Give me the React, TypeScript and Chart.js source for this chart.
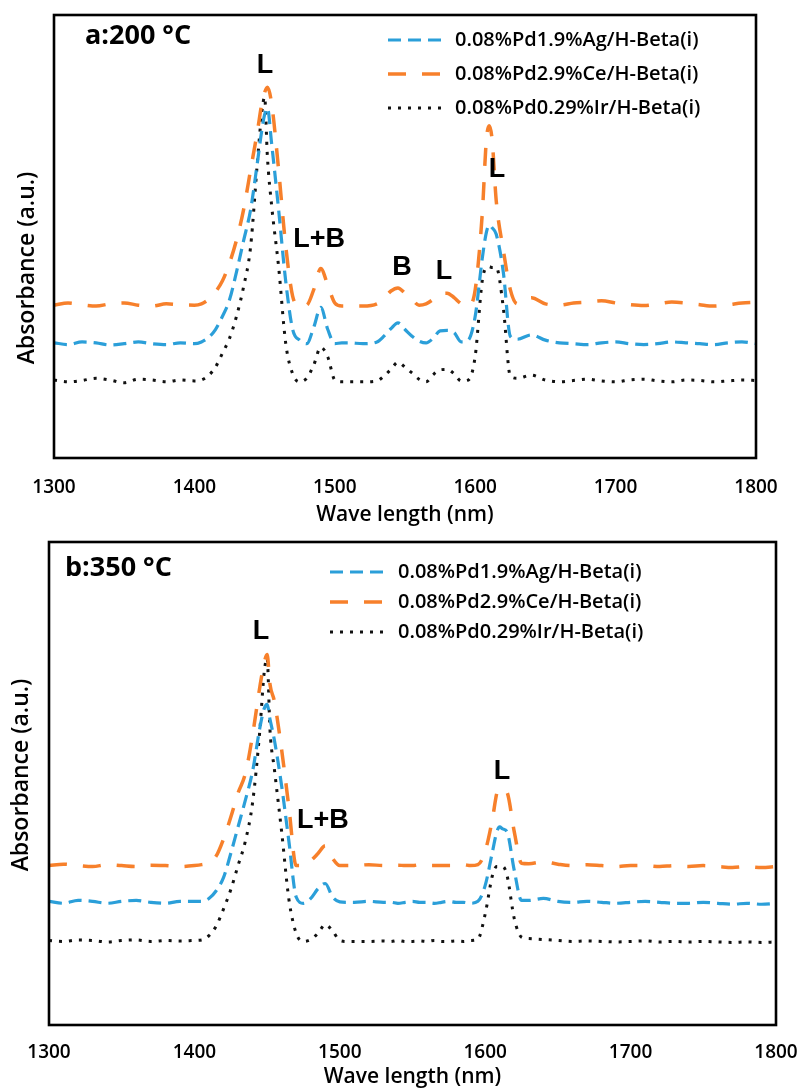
import React, { useEffect, useRef } from "react";
import { Chart, registerables } from "chart.js";

Chart.register(...registerables);

// ---------------- DATA ----------------
const wavelengths = [
  1300, 1310, 1320, 1330, 1340, 1350, 1360, 1370, 1380, 1390,
  1400, 1405, 1410, 1415, 1420, 1425, 1430, 1435, 1440, 1445,
  1448, 1450, 1452, 1455, 1460, 1465, 1470, 1475, 1480, 1485,
  1490, 1495, 1500, 1505, 1510, 1520, 1530, 1535, 1540, 1545,
  1550, 1555, 1560, 1565, 1570, 1575, 1580, 1585, 1590, 1595,
  1600, 1605, 1608, 1610, 1612, 1615, 1620, 1625, 1630, 1640,
  1650, 1660, 1670, 1680, 1690, 1700, 1710, 1720, 1730, 1740,
  1750, 1760, 1770, 1780, 1790, 1800,
];

const seriesNames = [
  "0.08%Pd1.9%Ag/H-Beta(i)",
  "0.08%Pd2.9%Ce/H-Beta(i)",
  "0.08%Pd0.29%Ir/H-Beta(i)",
];

// panel a: 200 °C
const topAg = [
  0.260, 0.256, 0.262, 0.260, 0.255, 0.258, 0.262, 0.258, 0.256, 0.260,
  0.258, 0.262, 0.272, 0.290, 0.320, 0.357, 0.420, 0.490, 0.560, 0.670,
  0.740, 0.775, 0.790, 0.710, 0.560, 0.400, 0.290, 0.266, 0.258, 0.295,
  0.340, 0.290, 0.258, 0.260, 0.260, 0.258, 0.262, 0.275, 0.292, 0.305,
  0.290, 0.275, 0.264, 0.260, 0.270, 0.287, 0.288, 0.283, 0.262, 0.266,
  0.320, 0.450, 0.510, 0.526, 0.520, 0.505, 0.420, 0.275, 0.268, 0.278,
  0.266, 0.260, 0.258, 0.256, 0.260, 0.262, 0.258, 0.256, 0.258, 0.262,
  0.260, 0.258, 0.256, 0.260, 0.262, 0.258,
];
const topCe = [
  0.345, 0.350, 0.346, 0.343, 0.348, 0.350, 0.345, 0.343, 0.348, 0.346,
  0.345, 0.348, 0.358, 0.375, 0.400, 0.440, 0.492, 0.560, 0.650, 0.740,
  0.800, 0.825, 0.837, 0.800, 0.650, 0.480, 0.365, 0.343, 0.345, 0.380,
  0.428, 0.390, 0.350, 0.343, 0.343, 0.343, 0.348, 0.360, 0.377, 0.384,
  0.372, 0.358, 0.345, 0.348, 0.358, 0.370, 0.372, 0.362, 0.348, 0.343,
  0.380, 0.550, 0.720, 0.750, 0.720, 0.580, 0.470, 0.380, 0.348, 0.362,
  0.348, 0.345, 0.350, 0.352, 0.355, 0.350, 0.346, 0.344, 0.348, 0.352,
  0.350, 0.346, 0.343, 0.346, 0.350, 0.352,
];
const topIr = [
  0.176, 0.172, 0.175, 0.180, 0.176, 0.170, 0.178, 0.176, 0.172, 0.176,
  0.174, 0.176, 0.186, 0.205, 0.237, 0.270, 0.320, 0.386, 0.476, 0.673,
  0.780, 0.815, 0.680, 0.570, 0.431, 0.260, 0.190, 0.172, 0.180, 0.210,
  0.250, 0.228, 0.176, 0.172, 0.172, 0.172, 0.174, 0.185, 0.200, 0.216,
  0.205, 0.192, 0.178, 0.172, 0.188, 0.199, 0.200, 0.190, 0.174, 0.176,
  0.230, 0.400, 0.430, 0.432, 0.430, 0.430, 0.340, 0.185, 0.180, 0.187,
  0.176, 0.172, 0.175, 0.178, 0.174, 0.172, 0.176, 0.178, 0.174, 0.172,
  0.176, 0.175, 0.172, 0.174, 0.176, 0.175,
];

// panel b: 350 °C
const bottomAg = [
  0.256, 0.252, 0.258, 0.256, 0.252, 0.256, 0.258, 0.254, 0.252, 0.256,
  0.256, 0.256, 0.262, 0.278, 0.305, 0.355, 0.410, 0.465, 0.525, 0.615,
  0.655, 0.664, 0.633, 0.590, 0.495, 0.380, 0.265, 0.252, 0.262, 0.282,
  0.293, 0.265, 0.255, 0.254, 0.254, 0.256, 0.254, 0.254, 0.252, 0.254,
  0.256, 0.254, 0.254, 0.252, 0.254, 0.256, 0.254, 0.254, 0.252, 0.256,
  0.289, 0.359, 0.400, 0.410, 0.406, 0.400, 0.320, 0.258, 0.258, 0.262,
  0.256, 0.254, 0.256, 0.254, 0.252, 0.254, 0.256, 0.254, 0.252, 0.252,
  0.254, 0.252, 0.250, 0.252, 0.250, 0.252,
];
const bottomCe = [
  0.330, 0.333, 0.330, 0.328, 0.332, 0.330, 0.328, 0.331, 0.330, 0.328,
  0.330, 0.332, 0.336, 0.350, 0.385, 0.430, 0.480, 0.520, 0.600, 0.700,
  0.750, 0.767, 0.705, 0.670, 0.570, 0.450, 0.330, 0.330, 0.340, 0.355,
  0.371, 0.345, 0.330, 0.330, 0.330, 0.332, 0.330, 0.330, 0.331, 0.330,
  0.330, 0.332, 0.330, 0.330, 0.330, 0.330, 0.330, 0.332, 0.330, 0.332,
  0.360, 0.427, 0.480, 0.489, 0.488, 0.482, 0.400, 0.335, 0.334, 0.338,
  0.333, 0.330, 0.332, 0.330, 0.328, 0.330, 0.330, 0.328, 0.330, 0.328,
  0.330, 0.328, 0.326, 0.328, 0.326, 0.328,
];
const bottomIr = [
  0.175, 0.173, 0.176, 0.175, 0.172, 0.175, 0.176, 0.173, 0.175, 0.174,
  0.175, 0.176, 0.185, 0.205, 0.240, 0.280, 0.330, 0.380, 0.460, 0.610,
  0.730, 0.760, 0.610, 0.530, 0.400, 0.260, 0.190, 0.173, 0.177, 0.190,
  0.208, 0.195, 0.175, 0.173, 0.173, 0.173, 0.174, 0.173, 0.175, 0.173,
  0.173, 0.174, 0.173, 0.175, 0.173, 0.173, 0.174, 0.173, 0.175, 0.178,
  0.230, 0.310, 0.328, 0.328, 0.328, 0.310, 0.220, 0.182, 0.179, 0.177,
  0.175, 0.173, 0.174, 0.173, 0.172, 0.173, 0.174, 0.172, 0.173, 0.172,
  0.173, 0.172, 0.171, 0.172, 0.171, 0.172,
];

const xTicks = [1300, 1400, 1500, 1600, 1700, 1800];

const topPeakLabels = [
  { text: "L", wl: 1450.3, v: 0.887 },
  { text: "L+B", wl: 1488.8, v: 0.492 },
  { text: "B", wl: 1547.9, v: 0.429 },
  { text: "L", wl: 1577.8, v: 0.422 },
  { text: "L", wl: 1615.6, v: 0.652 },
];
const bottomPeakLabels = [
  { text: "L", wl: 1445.8, v: 0.815 },
  { text: "L+B", wl: 1488.4, v: 0.423 },
  { text: "L", wl: 1611.6, v: 0.525 },
];

// ---------------- STYLE ----------------
const FONT = "'Open Sans', 'DejaVu Sans', sans-serif";
const seriesStyles = [
  { color: "#2B9FD9", width: 3.2, dash: [13, 7] },
  { color: "#F7802B", width: 3.5, dash: [18, 16] },
  { color: "#111111", width: 3, dash: [3, 7] },
];

const overlayPlugin = {
  id: "overlay",
  afterDatasetsDraw(chart: any, _args: any, opts: any) {
    const { ctx, chartArea, scales } = chart;
    ctx.save();
    // frame
    ctx.setLineDash([]);
    ctx.strokeStyle = "#000";
    ctx.lineWidth = 2.6;
    ctx.strokeRect(
      chartArea.left,
      chartArea.top,
      chartArea.right - chartArea.left,
      chartArea.bottom - chartArea.top
    );
    // panel title
    ctx.fillStyle = "#000";
    ctx.font = `bold 27px ${FONT}`;
    ctx.textAlign = "left";
    ctx.textBaseline = "middle";
    ctx.fillText(opts.title, opts.titleX, opts.titleY);
    // legend
    ctx.font = `600 20px ${FONT}`;
    chart.data.datasets.forEach((ds: any, i: number) => {
      const y = opts.legendRows[i];
      ctx.save();
      ctx.strokeStyle = ds.borderColor;
      ctx.lineWidth = ds.borderWidth;
      ctx.setLineDash(ds.borderDash);
      ctx.beginPath();
      ctx.moveTo(opts.legendX, y);
      ctx.lineTo(opts.legendX + 55, y);
      ctx.stroke();
      ctx.restore();
      ctx.fillStyle = "#000";
      ctx.fillText(ds.label, opts.legendTextX, y);
    });
    // peak labels
    ctx.font = `bold 27px 'Liberation Sans', Arial, sans-serif`;
    ctx.textAlign = "center";
    opts.peaks.forEach((p: any) => {
      ctx.fillText(p.text, scales.x.getPixelForValue(p.wl), scales.y.getPixelForValue(p.v));
    });
    // y axis title
    ctx.font = `600 23px ${FONT}`;
    ctx.translate(opts.yTitleX, opts.yTitleY);
    ctx.rotate(-Math.PI / 2);
    ctx.fillText("Absorbance (a.u.)", 0, 0);
    ctx.restore();
  },
};

type PanelProps = {
  top: number;
  height: number;
  series: number[][];
  pad: { left: number; right: number; top: number };
  xScaleHeight: number;
  tickPad: number;
  titlePad: number;
  overlay: any;
};

function Panel(props: PanelProps) {
  const ref = useRef<HTMLCanvasElement>(null);
  useEffect(() => {
    const chart = new Chart(ref.current as HTMLCanvasElement, {
      type: "line",
      data: {
        datasets: props.series.map((vals, i) => ({
          label: seriesNames[i],
          data: wavelengths.map((w, j) => ({ x: w, y: vals[j] })),
          borderColor: seriesStyles[i].color,
          borderWidth: seriesStyles[i].width,
          borderDash: seriesStyles[i].dash,
          borderCapStyle: "butt",
          pointRadius: 0,
          fill: false,
          tension: 0.4,
          cubicInterpolationMode: "monotone",
        })),
      },
      options: {
        responsive: false,
        animation: false,
        layout: { padding: { left: props.pad.left, right: props.pad.right, top: props.pad.top, bottom: 0 } },
        plugins: {
          legend: { display: false },
          tooltip: { enabled: false },
          overlay: props.overlay,
        } as any,
        scales: {
          x: {
            type: "linear",
            min: 1300,
            max: 1800,
            afterBuildTicks: (s: any) => {
              s.ticks = xTicks.map((v) => ({ value: v }));
            },
            afterFit: (s: any) => {
              s.height = props.xScaleHeight;
              s.paddingLeft = 0;
              s.paddingRight = 0;
            },
            ticks: {
              padding: props.tickPad,
              color: "#000",
              font: { family: FONT, size: 19, weight: "600" },
              maxRotation: 0,
              autoSkip: false,
              callback: (v: any) => String(v),
            },
            grid: { display: false, drawTicks: false },
            border: { display: false },
            title: {
              display: true,
              text: "Wave length (nm)",
              color: "#000",
              font: { family: FONT, size: 21, weight: "600" },
              padding: { top: 0, bottom: props.titlePad },
            },
          },
          y: { display: false, min: 0, max: 1 },
        },
      } as any,
      plugins: [overlayPlugin as any],
    });
    return () => chart.destroy();
  }, []);
  return (
    <canvas
      ref={ref}
      width={800}
      height={props.height}
      style={{ position: "absolute", left: 0, top: props.top, width: 800, height: props.height }}
    />
  );
}

export default function App() {
  return (
    <div style={{ position: "absolute", left: 0, top: 0, width: 800, height: 1090, background: "#fff" }}>
      <Panel
        top={0}
        height={530}
        series={[topAg, topCe, topIr]}
        pad={{ left: 54, right: 44, top: 15 }}
        xScaleHeight={72}
        tickPad={18.6}
        titlePad={2.4}
        overlay={{
          title: "a:200 °C",
          titleX: 85,
          titleY: 36,
          legendX: 388,
          legendTextX: 455,
          legendRows: [40, 74, 108],
          peaks: topPeakLabels,
          yTitleX: 27,
          yTitleY: 268,
        }}
      />
      <Panel
        top={530}
        height={560}
        series={[bottomAg, bottomCe, bottomIr]}
        pad={{ left: 49, right: 24, top: 12 }}
        xScaleHeight={65}
        tickPad={16.6}
        titlePad={0}
        overlay={{
          title: "b:350 °C",
          titleX: 65,
          titleY: 38,
          legendX: 330,
          legendTextX: 398,
          legendRows: [42, 72, 102],
          peaks: bottomPeakLabels,
          yTitleX: 21,
          yTitleY: 245,
        }}
      />
    </div>
  );
}
